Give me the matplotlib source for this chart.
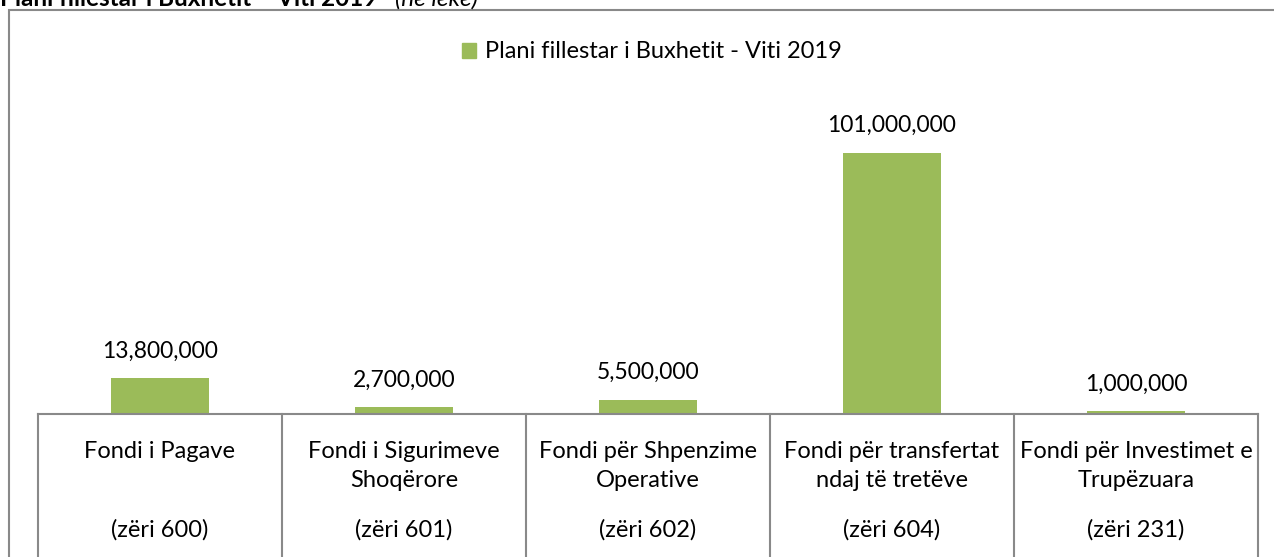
import matplotlib.pyplot as plt
from matplotlib.patches import Rectangle
import matplotlib.transforms as mtransforms

plt.rcParams["font.family"] = ["Lato", "DejaVu Sans"]

# =========================
# DATA
# =========================
categories = [
    "Fondi i Pagave",
    "Fondi i Sigurimeve\nShoqërore",
    "Fondi për Shpenzime\nOperative",
    "Fondi për transfertat\nndaj të tretëve",
    "Fondi për Investimet e\nTrupëzuara",
]
codes = ["(zëri 600)", "(zëri 601)", "(zëri 602)", "(zëri 604)", "(zëri 231)"]
values = [13800000, 2700000, 5500000, 101000000, 1000000]
series_name = "Plani fillestar i Buxhetit - Viti 2019"

BAR_COLOR = "#9BBB59"
LINE_COLOR = "#898989"

W, H = 1274, 557
fig = plt.figure(figsize=(W / 100, H / 100), dpi=100)

# outer chart frame (cut off at right and bottom)
fig.patches.append(Rectangle((9 / W, -0.05), 1.2, 1 - 10 / H + 0.05,
                             transform=fig.transFigure, fill=False,
                             edgecolor=LINE_COLOR, linewidth=1.5))

# cropped title at the very top
fig.text(0.0, 1 - 6 / H, "Plani fillestar i Buxhetit – Viti 2019",
         fontsize=17.5, fontweight="bold", va="baseline", ha="left")
fig.text(395 / W, 1 - 6 / H, "(në lekë)",
         fontsize=17.5, fontstyle="italic", va="baseline", ha="left")

# =========================
# AXES
# =========================
ax_left, ax_right = 38, 1258
ax_bottom, ax_top = 414, 153
ax = fig.add_axes([ax_left / W, 1 - ax_bottom / H,
                   (ax_right - ax_left) / W, (ax_bottom - ax_top) / H])

x = list(range(len(values)))
ax.bar(x, values, width=0.4, color=BAR_COLOR, zorder=2)
ax.set_xlim(-0.5, len(values) - 0.5)
ax.set_ylim(0, max(values))

for xi, v in zip(x, values):
    ax.annotate(f"{v:,}", (xi, v), xytext=(0, 12), textcoords="offset points",
                ha="center", va="bottom", fontsize=16.5, annotation_clip=False)

for s in ["left", "right", "top"]:
    ax.spines[s].set_visible(False)
ax.spines["bottom"].set_color(LINE_COLOR)
ax.spines["bottom"].set_linewidth(1.5)
ax.set_yticks([])
ax.set_xticks([])

# category boxes below the axis
axh = ax_bottom - ax_top
trans = mtransforms.blended_transform_factory(ax.transData, ax.transAxes)
depth = -(H - ax_bottom + 5) / axh
for b in range(len(values) + 1):
    ax.plot([b - 0.5, b - 0.5], [0, depth], color=LINE_COLOR, linewidth=1.5,
            transform=trans, clip_on=False)

for xi, lab, code in zip(x, categories, codes):
    ax.text(xi, -27 / axh, lab, transform=trans, ha="center", va="top",
            fontsize=17, linespacing=1.45)
    ax.text(xi, -(530 - ax_bottom) / axh, code, transform=trans, ha="center",
            va="center", fontsize=17)

# legend
handle = Rectangle((0, 0), 1, 1, color=BAR_COLOR)
fig.legend([handle], [series_name], loc="center", bbox_to_anchor=(652 / W, 1 - 52 / H),
           frameon=False, fontsize=17, handlelength=0.6, handleheight=0.6,
           handletextpad=0.4)

fig.savefig("out.png", dpi=100)
